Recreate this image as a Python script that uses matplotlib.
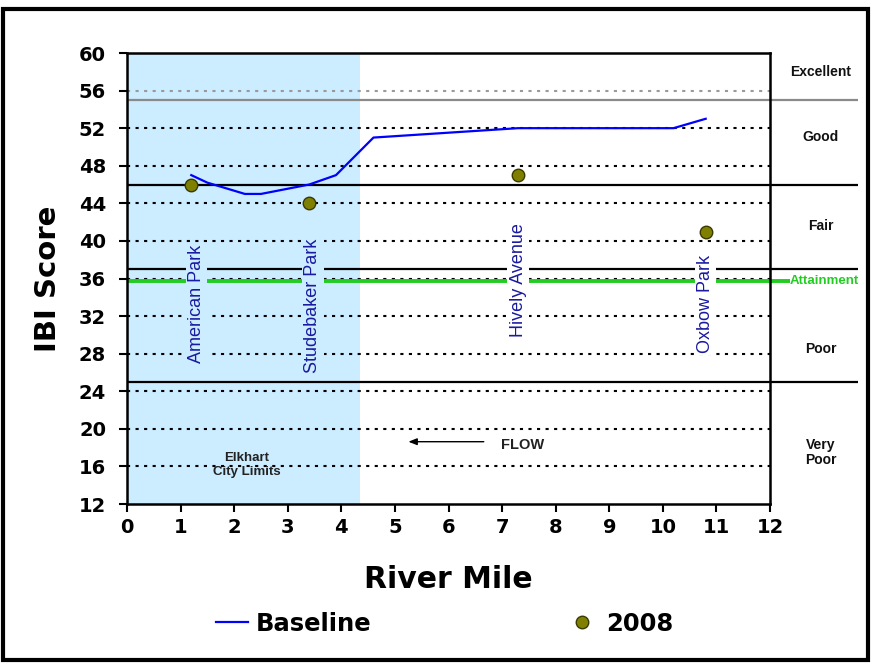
import matplotlib
matplotlib.use("Agg")
import matplotlib.pyplot as plt
from matplotlib.patches import Rectangle

# ---- data ----
baseline_mile = [1.2, 1.5, 2.2, 2.5, 3.4, 3.9, 4.6, 7.3, 10.2, 10.8]
baseline_ibi = [47.0, 46.2, 45.0, 45.0, 46.0, 47.0, 51.0, 52.0, 52.0, 53.0]
y2008_mile = [1.2, 3.4, 7.3, 10.8]
y2008_ibi = [46.0, 44.0, 47.0, 41.0]
sites = ["American Park", "Studebaker Park", "Hively Avenue", "Oxbow Park"]
site_mile = [1.3, 3.47, 7.3, 10.8]
site_y = [33.3, 33.1, 35.8, 33.3]
class_bounds = [55, 46, 37, 25]
class_colors = ["#8a8a8a", "black", "black", "black"]
class_labels = ["Excellent", "Good", "Fair", "Poor", "Very\nPoor"]
class_label_y = [57.96, 51.04, 41.57, 28.5, 17.5]
attainment = 35.7
city_limit = 4.35
x_ticks = list(range(0, 13))
y_ticks = list(range(12, 61, 4))

SHADE = "#CCECFF"

fig = plt.figure(figsize=(8.72, 6.65), dpi=100)
ax = fig.add_axes([127/872, 1-504/665, (770-127)/872, (504-53)/665])
ax.set_xlim(0, 12)
ax.set_ylim(12, 60)

# shaded city area
ax.axvspan(0, city_limit, color=SHADE, zorder=0, lw=0)

# dotted grid
for yv in y_ticks[1:]:
    col = "#9a9a9a" if yv >= 56 else "black"
    ax.plot([0, 12], [yv, yv], color=col, lw=1.5, ls=(0, (1.5, 2.6)), zorder=1)

# attainment line
ax.plot([0, 12.37], [attainment, attainment], color="#22CC22", lw=2.8, zorder=1.5, clip_on=False,
        solid_capstyle="butt")
ax.text(12.37, attainment, "Attainment", color="#22CC22", fontsize=9.5, fontweight="bold",
        family="Liberation Sans", va="center", ha="left")

# class boundary lines
for b, c in zip(class_bounds, class_colors):
    ax.plot([0, 13.64], [b, b], color=c, lw=1.6, zorder=2, clip_on=False, solid_capstyle="butt")

for lab, yv in zip(class_labels, class_label_y):
    ax.text(12.95, yv, lab, fontsize=10, fontweight="bold", family="Liberation Sans",
            ha="center", va="center", color="#111111", linespacing=1.1)

# data
ax.plot(baseline_mile, baseline_ibi, color="#0000FF", lw=1.6, zorder=4, label="Baseline")
ax.plot(y2008_mile, y2008_ibi, ls="none", marker="o", ms=9, mfc="#808000", mec="#3a3a00",
        mew=1, zorder=5, label="2008")

# site labels
for s, xm, ym in zip(sites, site_mile, site_y):
    bg = SHADE if xm < city_limit else "white"
    ax.text(xm, ym, s, rotation=90, ha="center", va="center", fontsize=13,
            family="Liberation Sans", color="#1a1aa0", zorder=6,
            bbox=dict(boxstyle="square,pad=0.12", fc=bg, ec="none"))

# annotations
ax.text(2.23, 16.15, "Elkhart\nCity Limits", ha="center", va="center", fontsize=9.5,
        fontweight="bold", family="Liberation Sans", color="#222222", linespacing=1.15)
ax.annotate("", xy=(5.2, 18.63), xytext=(6.71, 18.63),
            arrowprops=dict(arrowstyle="-|>,head_length=0.5,head_width=0.2", color="black", lw=1))
ax.text(7.38, 18.28, "FLOW", ha="center", va="center", fontsize=10.5, fontweight="bold",
        family="Liberation Sans", color="#222222")

# axes styling
ax.set_xticks(x_ticks)
ax.set_yticks(y_ticks)
for lab in ax.get_xticklabels() + ax.get_yticklabels():
    lab.set_family("DejaVu Sans")
    lab.set_fontweight("bold")
    lab.set_fontsize(14)
ax.tick_params(axis="y", direction="out", length=6, width=1.5, color="black", pad=9)
ax.tick_params(axis="x", direction="out", length=6, width=1.5, color="black", pad=4)
for sp in ax.spines.values():
    sp.set_linewidth(1.8)
    sp.set_color("black")
    sp.set_zorder(7)

ax.set_ylabel("IBI Score", fontsize=21, fontweight="bold", family="DejaVu Sans", labelpad=12)
ax.set_xlabel("River Mile", fontsize=21.5, fontweight="bold", family="DejaVu Sans", labelpad=20)

h, l = ax.get_legend_handles_labels()
fig.legend(h, l, loc="center", bbox_to_anchor=(0.51, 1-624/665), ncol=2, frameon=False,
           prop=dict(family="DejaVu Sans", weight="bold", size=17.5),
           handlelength=1.3, handletextpad=0.35, columnspacing=8.0, markerscale=1.0)

# outer border
fig.patches.append(Rectangle((0.004, 0.008), 0.991, 0.979, transform=fig.transFigure,
                             fill=False, ec="black", lw=3))

fig.savefig("out.png", dpi=100)
